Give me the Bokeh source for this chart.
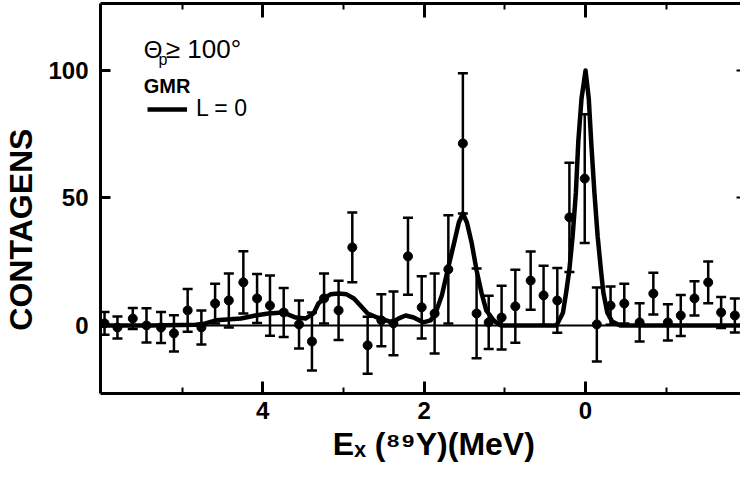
from bokeh.plotting import figure
from bokeh.models import (Range1d, LinearAxis, FixedTicker, Whisker, TeeHead,
                          ColumnDataSource, Span, Label, Legend, LegendItem)
from bokeh.embed import file_html
from bokeh.resources import INLINE

# ---- data (E_x in MeV, counts) ----
energy = [5.96, 5.80, 5.61, 5.44, 5.26, 5.10, 4.93, 4.76, 4.59, 4.42,
          4.24, 4.07, 3.91, 3.74, 3.55, 3.39, 3.24, 3.06, 2.89, 2.70,
          2.53, 2.38, 2.20, 2.03, 1.87, 1.70, 1.52, 1.35, 1.20, 1.04,
          0.87, 0.68, 0.52, 0.35, 0.20, 0.01, -0.14, -0.31, -0.48, -0.67,
          -0.84, -1.02, -1.18, -1.35, -1.52, -1.68, -1.85]
counts = [0.8, -0.8, 2.7, 0.0, -0.8, -3.1, 5.9, -0.8, 8.6, 9.8,
          16.9, 10.6, 7.8, 5.1, 0.4, -6.3, 10.6, 5.9, 30.6, -7.8,
          2.0, 0.8, 27.1, 7.1, 4.7, 22.0, 71.4, 4.7, 1.2, 3.1,
          7.5, 17.6, 11.8, 9.8, 42.4, 57.6, 0.4, 7.8, 8.6, 1.2,
          12.5, 1.2, 3.9, 10.6, 16.9, 5.1, 3.9]
errors = [4.5, 4.3, 4.1, 6.7, 6.1, 7.1, 8.4, 6.7, 7.8, 10.6,
          12.2, 9.6, 11.8, 9.6, 9.4, 11.4, 9.8, 11.6, 13.7, 11.2,
          10.2, 12.5, 15.1, 12.2, 15.7, 21.2, 27.5, 17.6, 10.4, 12.5,
          14.3, 11.4, 11.6, 12.7, 21.4, 25.3, 14.5, 7.5, 7.8, 7.5,
          8.2, 7.1, 8.0, 6.7, 8.2, 6.1, 6.7]

# L = 0 fit curve
fit_energy = [6.01, 5.39, 4.83, 4.71, 4.58, 4.27, 4.09, 3.93, 3.75, 3.59,
              3.47, 3.37, 3.31, 3.24, 3.16, 3.06, 2.96, 2.87, 2.79, 2.70,
              2.61, 2.54, 2.39, 2.32, 2.23, 2.13, 2.01, 1.92, 1.86, 1.78,
              1.71, 1.63, 1.57, 1.52, 1.47, 1.41, 1.35, 1.29, 1.23, 1.14,
              1.05, 0.36, 0.28, 0.24, 0.20, 0.16, 0.12, 0.09, 0.05, 0.00,
              -0.04, -0.07, -0.11, -0.15, -0.19, -0.22, -0.27, -0.33, -0.43, -1.92]
fit_counts = [0.0, 0.0, 0.3, 0.8, 2.0, 2.7, 3.9, 4.7, 5.1, 3.1,
              2.7, 4.7, 8.6, 10.6, 12.2, 12.5, 12.2, 10.6, 7.8, 4.7,
              3.5, 2.7, 1.2, 2.7, 3.9, 3.1, 1.2, 2.0, 4.7, 11.8,
              21.6, 32.2, 40.4, 43.9, 40.4, 32.2, 21.6, 12.9, 5.9, 2.0,
              0.0, 0.0, 5.0, 13.0, 22.0, 35.0, 52.0, 72.0, 89.0, 100.0,
              89.0, 72.0, 52.0, 35.0, 22.0, 13.0, 5.0, 1.5, 0.0, 0.0]

x_major = [4, 2, 0]
x_minor = [5, 3, 1, -1]
y_major = [0, 50, 100]

FONT = "Liberation Sans"
INK = "black"
NBSP = "\u00a0"

p = figure(width=740, height=481,
           x_range=Range1d(6.01, -1.92), y_range=Range1d(-26.7, 126.3),
           output_backend="svg", toolbar_location=None,
           min_border_left=100, min_border_right=0, min_border_top=3,
           min_border_bottom=88)
p.outline_line_color = None
p.grid.visible = False
p.background_fill_color = "white"
p.border_fill_color = "white"

# bottom axis
xa = p.xaxis[0]
xa.ticker = FixedTicker(ticks=x_major, minor_ticks=x_minor)
xa.axis_line_width = 3
xa.axis_line_color = INK
xa.major_tick_in = 12
xa.major_tick_out = 0
xa.major_tick_line_width = 3
xa.major_tick_line_color = INK
xa.minor_tick_in = 6
xa.minor_tick_out = 0
xa.minor_tick_line_width = 2
xa.minor_tick_line_color = INK
xa.major_label_text_font = FONT
xa.major_label_text_font_size = "24px"
xa.major_label_text_font_style = "bold"
xa.major_label_text_color = INK
xa.major_label_standoff = 8
xa.axis_label = NBSP * 3 + "Eₓ (⁸⁹Y)(MeV)"
xa.axis_label_text_font = FONT
xa.axis_label_text_font_size = "32px"
xa.axis_label_text_font_style = "bold"
xa.axis_label_text_color = INK
xa.axis_label_standoff = 4

# left axis
ya = p.yaxis[0]
ya.ticker = FixedTicker(ticks=y_major)
ya.axis_line_width = 3
ya.axis_line_color = INK
ya.major_tick_in = 10
ya.major_tick_out = 0
ya.major_tick_line_width = 3
ya.major_tick_line_color = INK
ya.minor_tick_line_color = None
ya.major_label_text_font = FONT
ya.major_label_text_font_size = "24px"
ya.major_label_text_font_style = "bold"
ya.major_label_text_color = INK
ya.major_label_standoff = 12
ya.axis_label = "CONTAGENS" + NBSP * 7
ya.axis_label_text_font = FONT
ya.axis_label_text_font_size = "32px"
ya.axis_label_text_font_style = "bold"
ya.axis_label_text_color = INK
ya.axis_label_standoff = 6

# top axis (ticks only, no labels)
top = LinearAxis(ticker=FixedTicker(ticks=x_major, minor_ticks=x_minor),
                 axis_line_width=3, axis_line_color=INK,
                 major_tick_in=14, major_tick_out=0,
                 major_tick_line_width=3, major_tick_line_color=INK,
                 minor_tick_in=6, minor_tick_out=0,
                 minor_tick_line_width=2, minor_tick_line_color=INK,
                 major_label_standoff=0,
                 major_label_text_font_size="1px",
                 major_label_overrides={t: "" for t in x_major})
p.add_layout(top, "above")

# right axis (ticks only, no labels)
right = LinearAxis(ticker=FixedTicker(ticks=y_major), axis_line_color=None,
                   major_tick_in=4, major_tick_out=0, major_tick_line_width=2,
                   major_tick_line_color=INK,
                   minor_tick_line_color=None, major_label_standoff=0,
                   major_label_text_font_size="1px",
                   major_label_overrides={t: "" for t in y_major})
p.add_layout(right, "right")

# zero baseline
p.add_layout(Span(location=0, dimension="width", line_color=INK, line_width=2))

# data with error bars
src = ColumnDataSource(dict(
    x=energy, y=counts,
    upper=[c + e for c, e in zip(counts, errors)],
    lower=[c - e for c, e in zip(counts, errors)]))
p.add_layout(Whisker(source=src, base="x", upper="upper", lower="lower",
                     line_color=INK, line_width=2.5,
                     upper_head=TeeHead(size=10, line_width=2.5, line_color=INK),
                     lower_head=TeeHead(size=10, line_width=2.5, line_color=INK)))
p.scatter("x", "y", source=src, size=9, color=INK)

# fit curve
curve = p.line(fit_energy, fit_counts, line_color=INK, line_width=4.5,
               line_join="round")

legend = Legend(items=[LegendItem(label="L = 0", renderers=[curve])],
                location=(47, 271), padding=0, margin=0, spacing=0,
                glyph_width=40, glyph_height=20, label_height=20,
                label_standoff=9, border_line_color=None,
                background_fill_alpha=0,
                label_text_font=FONT, label_text_font_size="23px",
                label_text_color=INK)
p.add_layout(legend)

# annotation text
p.add_layout(Label(x=5.474, y=108.2, text="Θ", text_font=FONT, text_font_size="24px",
                   text_color=INK, text_align="left", text_baseline="middle"))
p.add_layout(Label(x=5.29, y=104.4, text="p", text_font=FONT, text_font_size="16px",
                   text_color=INK, text_align="left", text_baseline="middle"))
p.add_layout(Label(x=5.20, y=108.6, text="≥ 100°", text_font=FONT, text_font_size="26px",
                   text_color=INK, text_align="left", text_baseline="middle"))
p.add_layout(Label(x=5.474, y=94.0, text="GMR", text_font=FONT, text_font_size="20px",
                   text_font_style="bold", text_color=INK, text_align="left",
                   text_baseline="middle"))

open("out.html", "w").write(file_html(p, INLINE))
